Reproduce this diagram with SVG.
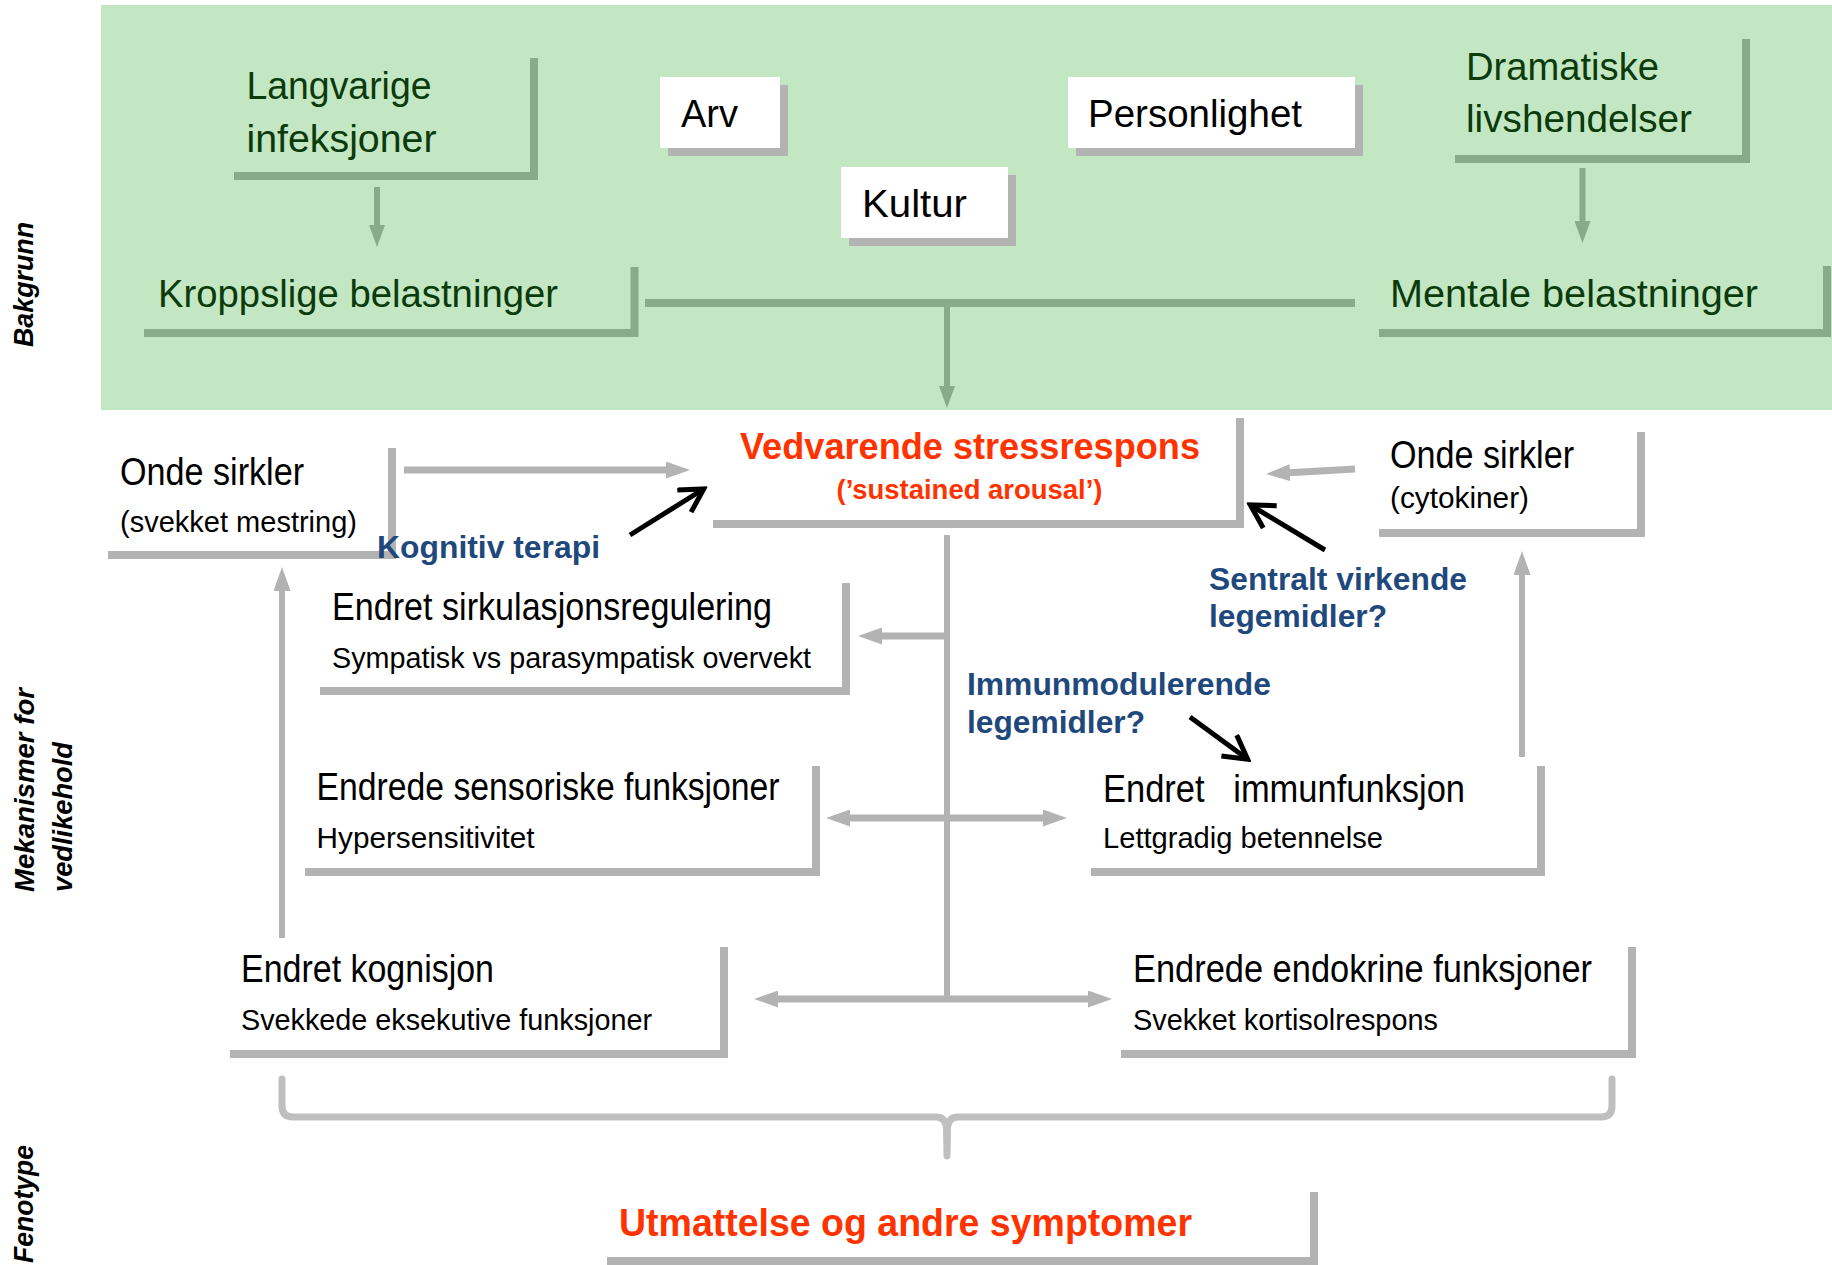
<svg xmlns="http://www.w3.org/2000/svg" width="1832" height="1265" viewBox="0 0 1832 1265">
<style>
text { font-family: "Liberation Sans", Arial, sans-serif; }
.t { font-size: 38px; fill: #000; }
.s { font-size: 29px; fill: #000; }
.gt { font-size: 38px; fill: #0b3a0b; }
.red { font-weight: bold; fill: #ff3300; }
.blue { font-size: 31px; font-weight: bold; fill: #1f497d; }
.side { font-size: 27px; font-weight: bold; font-style: italic; fill: #000; }
.gb { fill: none; stroke: #8aab87; stroke-width: 8; }
.br { fill: none; stroke: #b3b3b3; stroke-width: 8; }
.ga { stroke: #8aab87; stroke-width: 6; fill: none; }
.gc { stroke: #8aab87; stroke-width: 8; fill: none; }
.ya { stroke: #b3b3b3; stroke-width: 7; fill: none; }
.yv { stroke: #b3b3b3; stroke-width: 6; fill: none; }
.ba { stroke: #000; stroke-width: 5; fill: none; }
.box { fill: #ffffff; }
.shadow { fill: #b3b3b3; }
</style>
<defs>
<marker id="hg" viewBox="0 0 22 16" refX="1" refY="8" markerWidth="22" markerHeight="16" markerUnits="userSpaceOnUse" orient="auto-start-reverse">
<path d="M0,0 L22,8 L0,16z" fill="#8aab87"/>
</marker>
<marker id="hy" viewBox="0 0 24 17" refX="1" refY="8.5" markerWidth="24" markerHeight="17" markerUnits="userSpaceOnUse" orient="auto-start-reverse">
<path d="M0,0 L24,8.5 L0,17z" fill="#b3b3b3"/>
</marker>
<marker id="hb" viewBox="0 0 30 30" refX="24" refY="15" markerWidth="30" markerHeight="30" markerUnits="userSpaceOnUse" orient="auto">
<path d="M3,2 L26,15 L3,28" fill="none" stroke="#000" stroke-width="5"/>
</marker>
</defs>

<rect x="0" y="0" width="1832" height="1265" fill="#ffffff"/>
<rect id="background-band" x="101" y="5" width="1731" height="405" fill="#c3e6c3"/>

<g id="side-labels">
<text class="side" transform="translate(33,347) rotate(-90)" textLength="125" lengthAdjust="spacingAndGlyphs">Bakgrunn</text>
<text class="side" transform="translate(34,892) rotate(-90)" textLength="204" lengthAdjust="spacingAndGlyphs">Mekanismer for</text>
<text class="side" transform="translate(72,892) rotate(-90)" textLength="150" lengthAdjust="spacingAndGlyphs">vedlikehold</text>
<text class="side" transform="translate(33,1263) rotate(-90)" textLength="118" lengthAdjust="spacingAndGlyphs">Fenotype</text>
</g>

<g id="connectors">
<line class="ga" x1="377" y1="187" x2="377" y2="226" marker-end="url(#hg)"/>
<line class="ga" x1="1582.5" y1="168" x2="1582.5" y2="222" marker-end="url(#hg)"/>
<line class="gc" x1="645" y1="303" x2="1355" y2="303"/>
<line class="ga" x1="947" y1="299" x2="947" y2="387" marker-end="url(#hg)"/>
<line class="ya" x1="404" y1="470" x2="667" y2="470" marker-end="url(#hy)"/>
<line class="ya" x1="1355" y1="469" x2="1289" y2="472.7" marker-end="url(#hy)"/>
<line class="yv" x1="947" y1="535" x2="947" y2="999"/>
<line class="ya" x1="950" y1="636" x2="881" y2="636" marker-end="url(#hy)"/>
<line class="ya" x1="849" y1="818" x2="1044" y2="818" marker-start="url(#hy)" marker-end="url(#hy)"/>
<line class="ya" x1="777" y1="999" x2="1089" y2="999" marker-start="url(#hy)" marker-end="url(#hy)"/>
<line class="yv" x1="282" y1="938" x2="282" y2="590" marker-end="url(#hy)"/>
<line class="yv" x1="1522" y1="757" x2="1522" y2="574" marker-end="url(#hy)"/>
<line class="ba" x1="630" y1="535" x2="702" y2="490" marker-end="url(#hb)"/>
<line class="ba" x1="1325" y1="550" x2="1252" y2="506" marker-end="url(#hb)"/>
<line class="ba" x1="1190" y1="717" x2="1246" y2="758" marker-end="url(#hb)"/>
<path d="M282,1079 L282,1106 Q282,1117 293,1117 L936,1117 Q945,1117 946.5,1127 L947,1156 L947.5,1127 Q949,1117 958,1117 L1601,1117 Q1612,1117 1612,1106 L1612,1079" fill="none" stroke="#bfbfbf" stroke-width="7" stroke-linejoin="round" stroke-linecap="round"/>
</g>

<g id="node-langvarige">
<path class="gb" d="M234,176 L534,176 L534,58"/>
<text class="gt" x="246.5" y="99" textLength="185" lengthAdjust="spacingAndGlyphs">Langvarige</text>
<text class="gt" x="246.5" y="152" textLength="190" lengthAdjust="spacingAndGlyphs">infeksjoner</text>
</g>

<g id="node-arv">
<rect class="shadow" x="668" y="85" width="120" height="71"/>
<rect class="box" x="660" y="77" width="120" height="71"/>
<text class="t" x="681" y="127" textLength="57" lengthAdjust="spacingAndGlyphs">Arv</text>
</g>

<g id="node-kultur">
<rect class="shadow" x="849" y="175" width="167" height="71"/>
<rect class="box" x="841" y="167" width="167" height="71"/>
<text class="t" x="862" y="217" textLength="105" lengthAdjust="spacingAndGlyphs">Kultur</text>
</g>

<g id="node-personlighet">
<rect class="shadow" x="1076" y="85" width="287" height="71"/>
<rect class="box" x="1068" y="77" width="287" height="71"/>
<text class="t" x="1088" y="127" textLength="214" lengthAdjust="spacingAndGlyphs">Personlighet</text>
</g>

<g id="node-dramatiske">
<path class="gb" d="M1455,159 L1746,159 L1746,39"/>
<text class="gt" x="1466" y="80" textLength="193" lengthAdjust="spacingAndGlyphs">Dramatiske</text>
<text class="gt" x="1466" y="132" textLength="226" lengthAdjust="spacingAndGlyphs">livshendelser</text>
</g>

<g id="node-kroppslige">
<path class="gb" d="M144,333 L634.5,333 L634.5,267"/>
<text class="gt" x="158" y="307" textLength="400" lengthAdjust="spacingAndGlyphs">Kroppslige belastninger</text>
</g>

<g id="node-mentale">
<path class="gb" d="M1379,333 L1827,333 L1827,266"/>
<text class="gt" x="1390" y="307" textLength="368" lengthAdjust="spacingAndGlyphs">Mentale belastninger</text>
</g>

<g id="node-vedvarende">
<path class="br" d="M713,524 L1240,524 L1240,418"/>
<text class="red" x="740" y="459" font-size="36" textLength="460" lengthAdjust="spacingAndGlyphs">Vedvarende stressrespons</text>
<text class="red" x="836.5" y="499" font-size="28" textLength="266" lengthAdjust="spacingAndGlyphs">(’sustained arousal’)</text>
</g>

<g id="node-onde-sirkler-mestring">
<path class="br" d="M108,555 L392,555 L392,448"/>
<text class="t" x="120" y="485" textLength="184" lengthAdjust="spacingAndGlyphs">Onde sirkler</text>
<text class="s" x="120" y="532" textLength="237" lengthAdjust="spacingAndGlyphs">(svekket mestring)</text>
</g>

<g id="label-kognitiv-terapi">
<text class="blue" x="377" y="558" textLength="223" lengthAdjust="spacingAndGlyphs">Kognitiv terapi</text>
</g>

<g id="node-onde-sirkler-cytokiner">
<path class="br" d="M1379,533 L1641,533 L1641,432"/>
<text class="t" x="1390" y="468" textLength="184" lengthAdjust="spacingAndGlyphs">Onde sirkler</text>
<text class="s" x="1390" y="508" textLength="139" lengthAdjust="spacingAndGlyphs">(cytokiner)</text>
</g>

<g id="label-sentralt">
<text class="blue" x="1209" y="590" textLength="258" lengthAdjust="spacingAndGlyphs">Sentralt virkende</text>
<text class="blue" x="1209" y="627" textLength="178" lengthAdjust="spacingAndGlyphs">legemidler?</text>
</g>

<g id="node-sirkulasjon">
<path class="br" d="M320,691 L846,691 L846,583"/>
<text class="t" x="332" y="620" textLength="440" lengthAdjust="spacingAndGlyphs">Endret sirkulasjonsregulering</text>
<text class="s" x="332" y="668" textLength="479" lengthAdjust="spacingAndGlyphs">Sympatisk vs parasympatisk overvekt</text>
</g>

<g id="label-immunmodulerende">
<text class="blue" x="967" y="695" textLength="304" lengthAdjust="spacingAndGlyphs">Immunmodulerende</text>
<text class="blue" x="967" y="733" textLength="178" lengthAdjust="spacingAndGlyphs">legemidler?</text>
</g>

<g id="node-sensoriske">
<path class="br" d="M305,872 L816,872 L816,766"/>
<text class="t" x="316.6" y="800" textLength="463" lengthAdjust="spacingAndGlyphs">Endrede sensoriske funksjoner</text>
<text class="s" x="316.6" y="848" textLength="218" lengthAdjust="spacingAndGlyphs">Hypersensitivitet</text>
</g>

<g id="node-immunfunksjon">
<path class="br" d="M1091,872 L1541,872 L1541,766"/>
<text class="t" x="1103" y="802" xml:space="preserve" textLength="362" lengthAdjust="spacingAndGlyphs">Endret   immunfunksjon</text>
<text class="s" x="1103" y="848" textLength="280" lengthAdjust="spacingAndGlyphs">Lettgradig betennelse</text>
</g>

<g id="node-kognisjon">
<path class="br" d="M230,1054 L724,1054 L724,947"/>
<text class="t" x="241" y="982" textLength="253" lengthAdjust="spacingAndGlyphs">Endret kognisjon</text>
<text class="s" x="241" y="1030" textLength="411" lengthAdjust="spacingAndGlyphs">Svekkede eksekutive funksjoner</text>
</g>

<g id="node-endokrine">
<path class="br" d="M1121,1054 L1632,1054 L1632,947"/>
<text class="t" x="1133" y="982" textLength="459" lengthAdjust="spacingAndGlyphs">Endrede endokrine funksjoner</text>
<text class="s" x="1133" y="1030" textLength="305" lengthAdjust="spacingAndGlyphs">Svekket kortisolrespons</text>
</g>

<g id="node-utmattelse">
<path class="br" d="M607,1261 L1314,1261 L1314,1192"/>
<text class="red" x="619" y="1236" font-size="38" textLength="573" lengthAdjust="spacingAndGlyphs">Utmattelse og andre symptomer</text>
</g>
</svg>
